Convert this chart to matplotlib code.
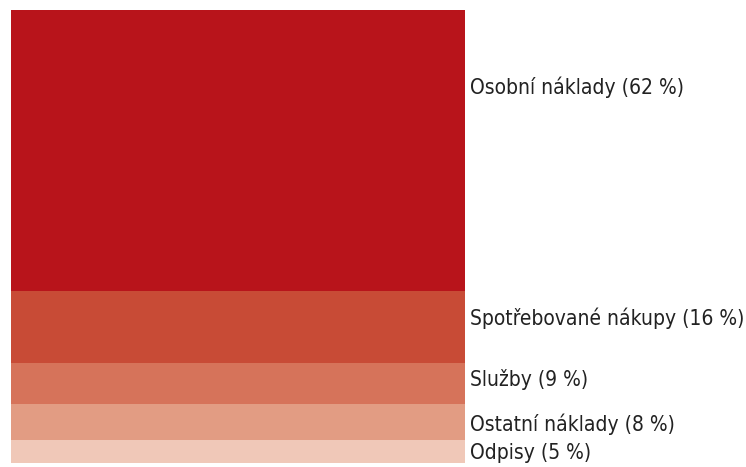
import matplotlib
matplotlib.use("Agg")
import matplotlib.pyplot as plt
import numpy as np

categories = ["Osobní náklady", "Spotřebované nákupy", "Služby", "Ostatní náklady", "Odpisy"]
shares = [62, 16, 9, 8, 5]
colors = ["#B8141B", "#C84B36", "#D6735A", "#E29C83", "#F0C8B8"]
# label offsets from band centre, in percentage points
label_shift = [-14, -2, -1, 0.5, 0.2]

plt.rcParams["font.family"] = ["DejaVu Sans"]
plt.rcParams["font.stretch"] = "condensed"

fig = plt.figure(figsize=(7.46, 4.67), dpi=100)
W, H = 746, 467
ax = fig.add_axes([11 / W, 1 - 463 / H, (465 - 11) / W, (463 - 10) / H])

bottoms = np.concatenate([[0], np.cumsum(shares)[:-1]])
ax.bar(0.5, shares, width=1.0, bottom=bottoms, color=colors, linewidth=0)
ax.set_xlim(0, 1)
ax.set_ylim(sum(shares), 0)
ax.axis("off")

for cat, s, b, d in zip(categories, shares, bottoms, label_shift):
    ax.text(1.012, b + s / 2 + d, f"{cat} ({s} %)", transform=ax.get_yaxis_transform(),
            ha="left", va="center", fontsize=15, fontstretch="condensed",
            color="#222222", clip_on=False)

fig.savefig("out.png", dpi=100)
